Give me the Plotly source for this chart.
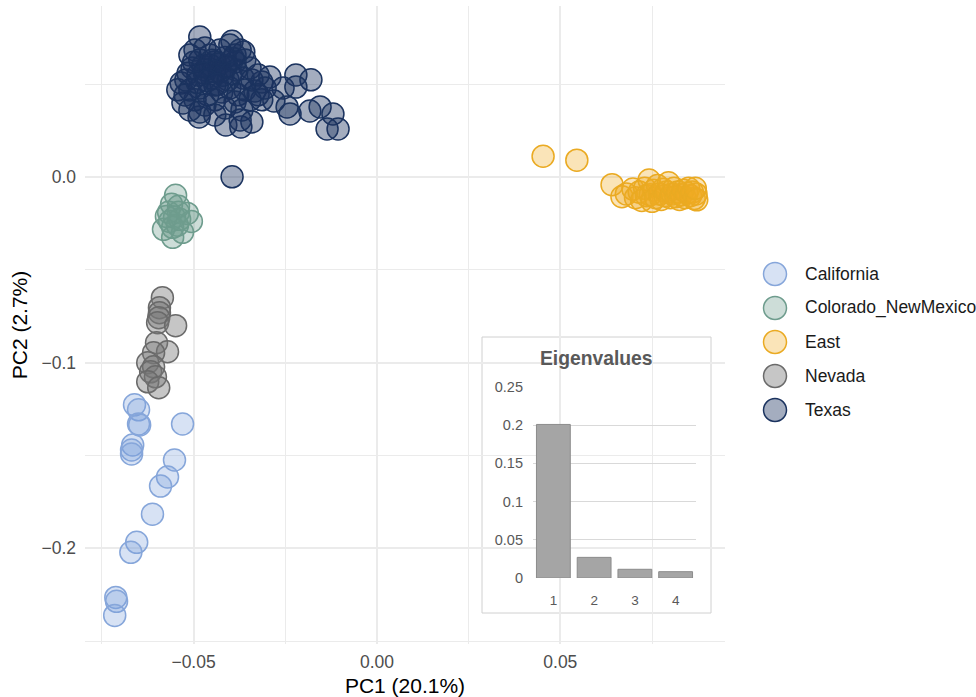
import plotly.graph_objects as go

# ---- PCA scores by region ----
groups = ["California", "Colorado_NewMexico", "East", "Nevada", "Texas"]

california_pc1 = [-0.0661, -0.0650, -0.0650, -0.0647, -0.0530, -0.0666, -0.0669, -0.0669,
                  -0.0552, -0.0571, -0.0590, -0.0612, -0.0655, -0.0671, -0.0712, -0.0710, -0.0715]
california_pc2 = [-0.1227, -0.1254, -0.1330, -0.1335, -0.1330, -0.1443, -0.1470, -0.1492,
                  -0.1524, -0.1616, -0.1665, -0.1816, -0.1968, -0.2022, -0.2265, -0.2286, -0.2362]

colorado_pc1 = [-0.0549, -0.0560, -0.0541, -0.0568, -0.0541, -0.0552, -0.0517, -0.0506,
                -0.0565, -0.0582, -0.0557, -0.0530, -0.0544, -0.0557, -0.0538, -0.0574]
colorado_pc2 = [-0.0097, -0.0146, -0.0157, -0.0189, -0.0189, -0.0216, -0.0195, -0.0238,
                -0.0238, -0.0281, -0.0324, -0.0297, -0.0259, -0.0270, -0.0227, -0.0211]

east_pc1 = [0.0453, 0.0545, 0.0641, 0.0668, 0.0680, 0.0698, 0.0705, 0.0715, 0.0722, 0.0730,
            0.0735, 0.0742, 0.0745, 0.0750, 0.0755, 0.0760, 0.0765, 0.0770, 0.0775, 0.0780,
            0.0785, 0.0790, 0.0795, 0.0800, 0.0805, 0.0810, 0.0815, 0.0820, 0.0825, 0.0830,
            0.0835, 0.0840, 0.0845, 0.0850, 0.0855, 0.0860, 0.0865, 0.0870, 0.0872, 0.0868]
east_pc2 = [0.0113, 0.0092, -0.0040, -0.0105, -0.0090, -0.0064, -0.0110, -0.0080, -0.0125, -0.0060,
            -0.0100, -0.0015, -0.0095, -0.0130, -0.0070, -0.0110, -0.0045, -0.0090, -0.0120, -0.0065,
            -0.0100, -0.0080, -0.0030, -0.0110, -0.0090, -0.0060, -0.0105, -0.0080, -0.0120, -0.0095,
            -0.0070, -0.0110, -0.0085, -0.0060, -0.0100, -0.0080, -0.0115, -0.0090, -0.0122, -0.0060]

nevada_pc1 = [-0.0585, -0.0593, -0.0593, -0.0595, -0.0598, -0.0549, -0.0601, -0.0571,
              -0.0609, -0.0625, -0.0609, -0.0617, -0.0604, -0.0625, -0.0595]
nevada_pc2 = [-0.0649, -0.0703, -0.0730, -0.0757, -0.0784, -0.0800, -0.0892, -0.0941,
              -0.0946, -0.1000, -0.1022, -0.1049, -0.1076, -0.1103, -0.1135]

texas_pc1 = [-0.0395, -0.0483, -0.0395, -0.0363, -0.0292, -0.0221, -0.0180, -0.0314, -0.0256,
             -0.0221, -0.0333, -0.0281, -0.0245, -0.0237, -0.0183, -0.0155, -0.0120, -0.0106,
             -0.0136, -0.0412, -0.0371, -0.0341, -0.0485, -0.0529, -0.0534, -0.0543,
             -0.0510, -0.0496, -0.0483, -0.0469, -0.0455, -0.0442, -0.0428, -0.0414, -0.0401,
             -0.0387, -0.0373, -0.0360, -0.0346, -0.0504, -0.0488, -0.0469, -0.0450, -0.0428,
             -0.0406, -0.0384, -0.0365, -0.0341, -0.0324, -0.0521, -0.0510, -0.0483, -0.0461,
             -0.0442, -0.0423, -0.0401, -0.0379, -0.0360, -0.0496, -0.0469, -0.0442, -0.0414,
             -0.0387, -0.0368, -0.0483, -0.0442, -0.0324, -0.0314, -0.0305, -0.0346, -0.0523,
             -0.0510, -0.0373, -0.0455, -0.0414, -0.0387,
             -0.0500, -0.0475, -0.0450, -0.0430, -0.0410, -0.0392, -0.0470, -0.0445, -0.0420,
             -0.0398, -0.0515, -0.0490, -0.0462, -0.0435]
texas_pc2 = [0.0002, 0.0756, 0.0733, 0.0675, 0.0540, 0.0551, 0.0525, 0.0513, 0.0481,
             0.0486, 0.0465, 0.0411, 0.0379, 0.0341, 0.0357, 0.0379, 0.0341, 0.0260,
             0.0260, 0.0282, 0.0271, 0.0298, 0.0325, 0.0400, 0.0508, 0.0471,
             0.0659, 0.0686, 0.0632, 0.0697, 0.0659, 0.0621, 0.0686, 0.0645, 0.0713,
             0.0659, 0.0686, 0.0632, 0.0589, 0.0589, 0.0551, 0.0578, 0.0535, 0.0567,
             0.0524, 0.0578, 0.0535, 0.0524, 0.0551, 0.0524, 0.0470, 0.0481, 0.0444,
             0.0497, 0.0460, 0.0481, 0.0444, 0.0470, 0.0417, 0.0390, 0.0417, 0.0373,
             0.0406, 0.0363, 0.0352, 0.0336, 0.0444, 0.0417, 0.0481, 0.0417, 0.0443,
             0.0363, 0.0309, 0.0605, 0.0594, 0.0621,
             0.0620, 0.0600, 0.0630, 0.0610, 0.0600, 0.0640, 0.0560, 0.0570, 0.0550,
             0.0560, 0.0560, 0.0510, 0.0520, 0.0500]

# ---- Eigenvalues for the inset ----
eig_components = ["1", "2", "3", "4"]
eig_values = [0.201, 0.027, 0.0114, 0.0083]
eig_ticks = [0, 0.05, 0.1, 0.15, 0.2, 0.25]
eig_ticktext = ["0", "0.05", "0.1", "0.15", "0.2", "0.25"]

pc1_ticks = [-0.05, 0.0, 0.05]
pc2_ticks = [-0.2, -0.1, 0.0]
pc1_minor = [-0.075, -0.025, 0.025, 0.075]
pc2_minor = [-0.25, -0.15, -0.05, 0.05]

# (fill, outline) per group
styles = {
    "California": ("rgba(123,158,217,0.30)", "#86A6DA"),
    "Colorado_NewMexico": ("rgba(111,158,143,0.35)", "#6E9C8D"),
    "East": ("rgba(238,171,34,0.32)", "#EAAA22"),
    "Nevada": ("rgba(120,120,120,0.42)", "#6A6A6A"),
    "Texas": ("rgba(27,51,95,0.40)", "#1B335F"),
}
series = {
    "California": (california_pc1, california_pc2),
    "Colorado_NewMexico": (colorado_pc1, colorado_pc2),
    "East": (east_pc1, east_pc2),
    "Nevada": (nevada_pc1, nevada_pc2),
    "Texas": (texas_pc1, texas_pc2),
}

W, H = 976, 697
FONT = "Liberation Sans, Arial, Helvetica, sans-serif"

fig = go.Figure()

for g in groups:
    fill, edge = styles[g]
    xs, ys = series[g]
    fig.add_trace(go.Scatter(
        x=xs, y=ys, mode="markers", name=g, showlegend=False,
        marker=dict(size=22, color=fill, line=dict(color=edge, width=1.5)),
        xaxis="x", yaxis="y",
    ))

# inset bar chart
fig.add_trace(go.Bar(
    x=eig_components, y=eig_values, showlegend=False,
    marker=dict(color="#A5A5A5", line=dict(color="#8C8C8C", width=1)),
    xaxis="x2", yaxis="y2",
))

# legend drawn as its own small panel
fig.add_trace(go.Scatter(
    x=[0] * len(groups), y=list(range(len(groups))), mode="markers", showlegend=False,
    marker=dict(size=23, color=[styles[g][0] for g in groups],
                line=dict(color=[styles[g][1] for g in groups], width=1.5)),
    xaxis="x3", yaxis="y3", hoverinfo="skip", cliponaxis=False,
))
for i, g in enumerate(groups):
    fig.add_annotation(x=28, y=i, xref="x3", yref="y3", text=g, showarrow=False,
                       xanchor="left", yanchor="middle",
                       font=dict(family=FONT, size=17.5, color="#1A1A1A"))

grid = "#EBEBEB"
fig.update_layout(
    width=W, height=H,
    margin=dict(l=0, r=0, t=0, b=0, autoexpand=False),
    paper_bgcolor="white", plot_bgcolor="rgba(0,0,0,0)",
    font=dict(family=FONT),
    bargap=0.17,
    xaxis=dict(
        domain=[85 / W, 725 / W], range=[-0.0796, 0.0949], automargin=False,
        tickvals=pc1_ticks, tickformat=".2f", ticks="", ticklabelstandoff=5,
        showgrid=True, gridcolor=grid, gridwidth=2, zeroline=False, showline=False,
        minor=dict(tickvals=pc1_minor, showgrid=True, gridcolor=grid, gridwidth=1),
        tickfont=dict(family=FONT, size=17.5, color="#4D4D4D"),
        title=dict(text="PC1 (20.1%)", font=dict(family=FONT, size=21, color="#000000"),
                   standoff=8),
        anchor="y",
    ),
    yaxis=dict(
        domain=[1 - 644 / H, 1 - 6 / H], range=[-0.2516, 0.0923], automargin=False,
        tickvals=pc2_ticks, tickformat=".1f", ticks="", ticklabelstandoff=8,
        showgrid=True, gridcolor=grid, gridwidth=2, zeroline=False, showline=False,
        minor=dict(tickvals=pc2_minor, showgrid=True, gridcolor=grid, gridwidth=1),
        tickfont=dict(family=FONT, size=17.5, color="#4D4D4D"),
        title=dict(text="PC2 (2.7%)", font=dict(family=FONT, size=21, color="#000000"),
                   standoff=8),
        anchor="x",
    ),
    xaxis2=dict(
        domain=[533 / W, 696 / W], type="category", ticks="", automargin=False,
        showgrid=False, zeroline=False, showline=False, ticklabelstandoff=12,
        tickfont=dict(family=FONT, size=13.5, color="#595959"),
        anchor="y2",
    ),
    yaxis2=dict(
        domain=[1 - 578 / H, 1 - 387 / H], range=[0, 0.25], automargin=False,
        tickvals=eig_ticks, ticktext=eig_ticktext, ticks="", ticklabelstandoff=9,
        showgrid=True, gridcolor="#D9D9D9", gridwidth=1, zeroline=False, showline=False,
        tickfont=dict(family=FONT, size=14.5, color="#595959"),
        anchor="x2",
    ),
    xaxis3=dict(domain=[742 / W, 1.0], range=[-33, 201], visible=False, fixedrange=True,
                automargin=False),
    yaxis3=dict(domain=[1 - 427 / H, 1 - 257 / H], range=[4.5, -0.5], visible=False,
                fixedrange=True, automargin=False),
)

# white panel behind the inset
fig.add_shape(type="rect", xref="x2 domain", yref="y2 domain",
              x0=(482 - 533) / 163, x1=(711 - 533) / 163,
              y0=(578 - 613) / 191, y1=(578 - 337) / 191,
              fillcolor="white", line=dict(color="#D0D0D0", width=1), layer="below")

fig.add_annotation(x=(482 + 711) / 2 / W, y=1 - 358 / H, xref="paper", yref="paper",
                   text="<b>Eigenvalues</b>", showarrow=False,
                   font=dict(family=FONT, size=19.3, color="#595959"))

fig.write_html("out.html")
